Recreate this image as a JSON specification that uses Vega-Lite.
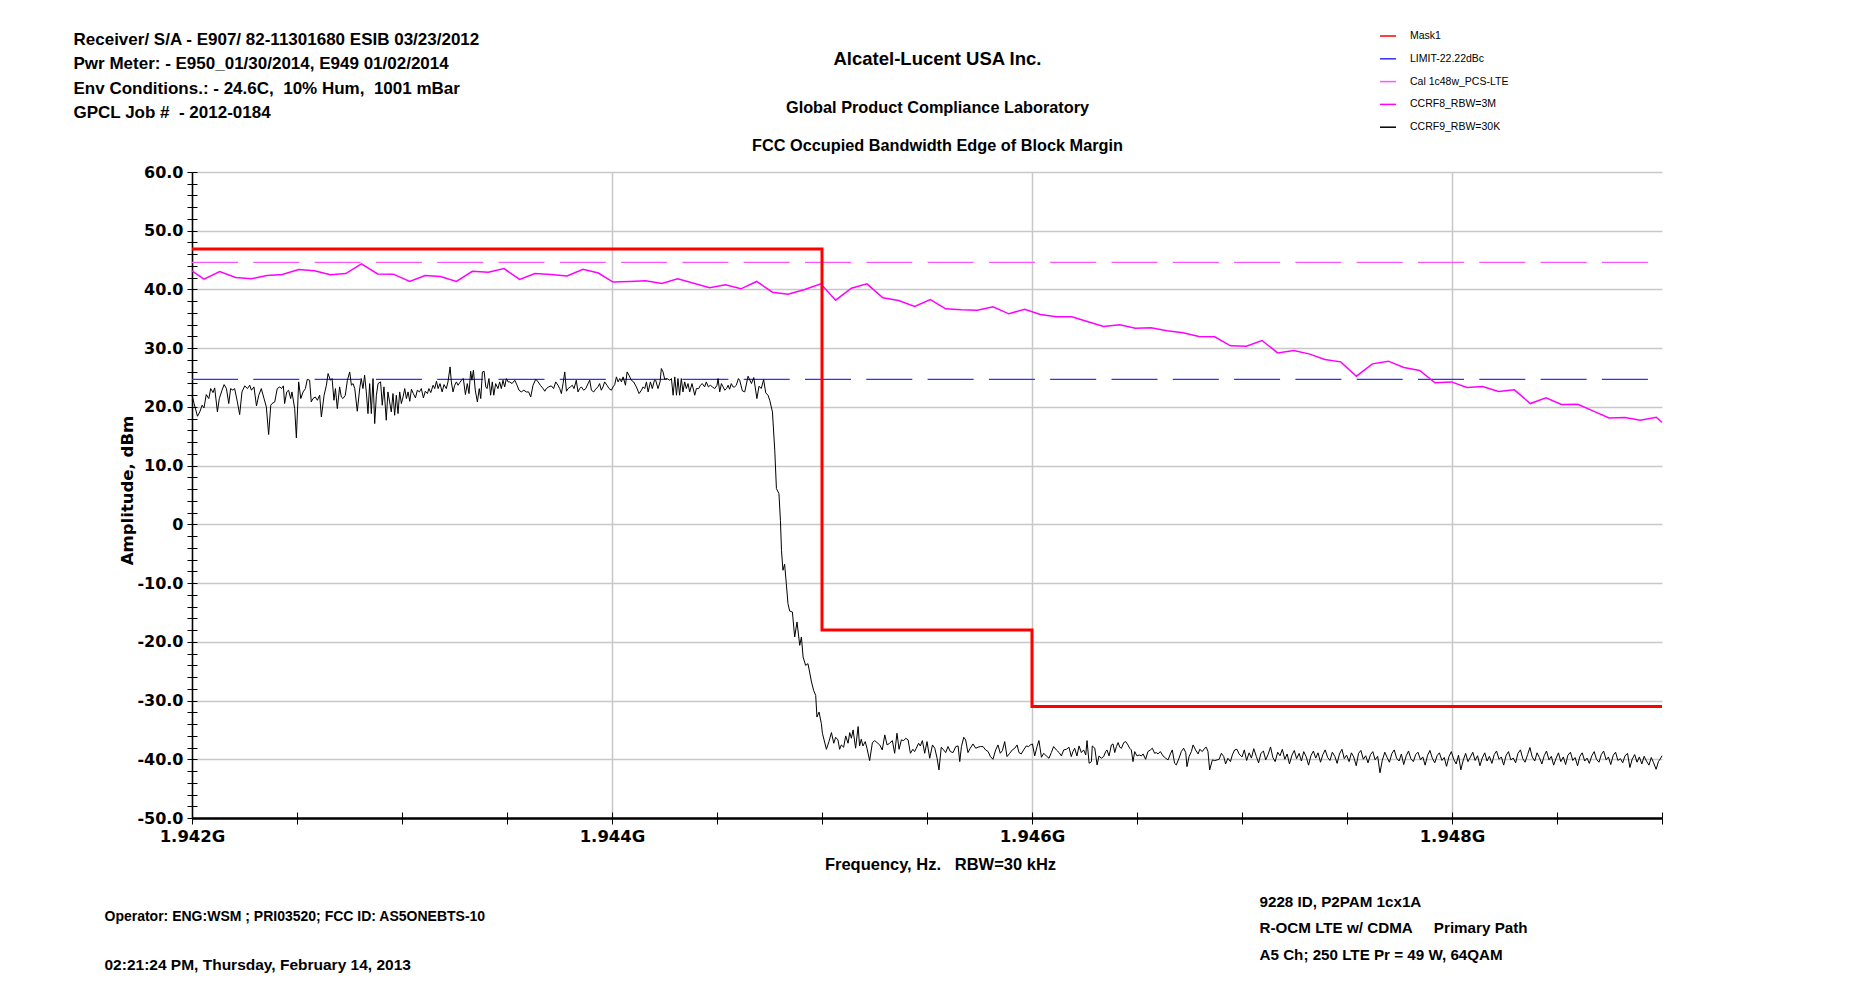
{
  "$schema": "https://vega.github.io/schema/vega-lite/v6.json",
  "width": 1470,
  "height": 646,
  "autosize": {"type": "none"},
  "padding": {"left": 192, "top": 172, "right": 187, "bottom": 169},
  "background": "white",
  "config": {
    "view": {"stroke": null},
    "font": "Liberation Sans",
    "axis": {
      "domainColor": "black", "tickColor": "black", "labelColor": "black", "titleColor": "black",
      "labelFont": "DejaVu Sans", "labelFontWeight": "bold",
      "titleFont": "Liberation Sans", "titleFontWeight": "bold", "titleLimit": 3000,
      "gridColor": "#c8c8c8", "gridWidth": 1.5
    }
  },
  "datasets": {
    "mask": [
      {"f": 1942, "v": 46.9}, {"f": 1945, "v": -18}, {"f": 1946, "v": -31}, {"f": 1949, "v": -31}
    ],
    "limit": [{"f": 1942, "v": 24.68}, {"f": 1949, "v": 24.68}],
    "cal": [{"f": 1942, "v": 44.6}, {"f": 1949, "v": 44.6}],
    "ccrf8": [
      {"f":1942.000,"v":43.17},{"f":1942.057,"v":41.75},{"f":1942.132,"v":43.06},{"f":1942.208,"v":42.04},
      {"f":1942.283,"v":41.81},{"f":1942.357,"v":42.38},{"f":1942.430,"v":42.55},{"f":1942.508,"v":43.4},
      {"f":1942.583,"v":43.2},{"f":1942.659,"v":42.49},{"f":1942.732,"v":42.7},{"f":1942.807,"v":44.36},
      {"f":1942.884,"v":42.65},{"f":1942.959,"v":42.6},{"f":1943.037,"v":41.36},{"f":1943.110,"v":42.38},
      {"f":1943.183,"v":42.2},{"f":1943.259,"v":41.36},{"f":1943.335,"v":43.1},{"f":1943.411,"v":42.95},
      {"f":1943.486,"v":43.55},{"f":1943.560,"v":41.7},{"f":1943.633,"v":42.7},{"f":1943.710,"v":42.55},
      {"f":1943.786,"v":42.3},{"f":1943.862,"v":43.45},{"f":1943.935,"v":42.8},{"f":1944.005,"v":41.25},
      {"f":1944.084,"v":41.36},{"f":1944.160,"v":41.5},{"f":1944.237,"v":41.0},{"f":1944.313,"v":41.8},
      {"f":1944.465,"v":40.28},{"f":1944.540,"v":40.79},{"f":1944.614,"v":40.11},{"f":1944.689,"v":41.36},
      {"f":1944.764,"v":39.54},{"f":1944.838,"v":39.2},{"f":1944.918,"v":40.0},{"f":1944.994,"v":40.96},
      {"f":1945.065,"v":38.18},{"f":1945.140,"v":40.22},{"f":1945.214,"v":40.96},{"f":1945.290,"v":38.57},
      {"f":1945.365,"v":38.12},{"f":1945.441,"v":37.1},{"f":1945.516,"v":38.29},{"f":1945.589,"v":36.7},
      {"f":1945.664,"v":36.53},{"f":1945.740,"v":36.47},{"f":1945.814,"v":37.04},{"f":1945.890,"v":35.85},
      {"f":1945.965,"v":36.64},{"f":1946.040,"v":35.74},{"f":1946.116,"v":35.34},{"f":1946.190,"v":35.34},
      {"f":1946.267,"v":34.49},{"f":1946.341,"v":33.69},{"f":1946.418,"v":33.98},{"f":1946.492,"v":33.41},
      {"f":1946.567,"v":33.46},{"f":1946.643,"v":32.95},{"f":1946.719,"v":32.61},{"f":1946.795,"v":31.99},
      {"f":1946.870,"v":31.93},{"f":1946.946,"v":30.4},{"f":1947.021,"v":30.34},{"f":1947.095,"v":31.31},
      {"f":1947.170,"v":29.2},{"f":1947.246,"v":29.6},{"f":1947.319,"v":29.03},{"f":1947.394,"v":28.07},
      {"f":1947.470,"v":27.67},{"f":1947.545,"v":25.23},{"f":1947.621,"v":27.33},{"f":1947.697,"v":27.79},
      {"f":1947.771,"v":26.71},{"f":1947.846,"v":26.2},{"f":1947.919,"v":24.1},{"f":1947.997,"v":24.26},
      {"f":1948.071,"v":23.3},{"f":1948.146,"v":23.47},{"f":1948.221,"v":22.62},{"f":1948.297,"v":22.9},
      {"f":1948.373,"v":20.57},{"f":1948.448,"v":21.54},{"f":1948.521,"v":20.4},{"f":1948.599,"v":20.46},
      {"f":1948.671,"v":19.32},{"f":1948.748,"v":18.13},{"f":1948.824,"v":18.19},{"f":1948.897,"v":17.73},
      {"f":1948.973,"v":18.24},{"f":1949.000,"v":17.34}
    ],
    "ccrf9": [
      {"f":1942.000,"v":21.99},{"f":1942.010,"v":20.57},{"f":1942.026,"v":18.41},{"f":1942.037,"v":19.15},
      {"f":1942.048,"v":20.28},{"f":1942.057,"v":19.83},{"f":1942.068,"v":22.10},{"f":1942.080,"v":21.42},
      {"f":1942.089,"v":23.12},{"f":1942.100,"v":22.44},{"f":1942.108,"v":23.24},{"f":1942.121,"v":19.15},
      {"f":1942.130,"v":21.42},{"f":1942.143,"v":22.84},{"f":1942.153,"v":23.80},{"f":1942.164,"v":23.12},
      {"f":1942.175,"v":20.57},{"f":1942.184,"v":23.12},{"f":1942.195,"v":22.84},{"f":1942.203,"v":23.12},
      {"f":1942.216,"v":20.85},{"f":1942.227,"v":18.69},{"f":1942.238,"v":22.55},{"f":1942.251,"v":23.58},
      {"f":1942.264,"v":23.12},{"f":1942.275,"v":23.69},{"f":1942.283,"v":22.84},{"f":1942.295,"v":23.41},
      {"f":1942.307,"v":20.17},{"f":1942.318,"v":21.99},{"f":1942.330,"v":23.12},{"f":1942.343,"v":21.42},
      {"f":1942.354,"v":20.00},{"f":1942.365,"v":15.29},{"f":1942.375,"v":20.28},{"f":1942.381,"v":20.57},
      {"f":1942.394,"v":20.85},{"f":1942.406,"v":23.12},{"f":1942.418,"v":23.41},{"f":1942.426,"v":23.12},
      {"f":1942.435,"v":23.58},{"f":1942.441,"v":20.57},{"f":1942.451,"v":22.55},{"f":1942.460,"v":22.84},
      {"f":1942.470,"v":21.42},{"f":1942.476,"v":22.55},{"f":1942.489,"v":19.71},{"f":1942.497,"v":14.72},
      {"f":1942.508,"v":24.26},{"f":1942.518,"v":21.42},{"f":1942.529,"v":22.55},{"f":1942.540,"v":23.12},
      {"f":1942.549,"v":24.71},{"f":1942.560,"v":24.54},{"f":1942.568,"v":20.85},{"f":1942.576,"v":21.42},
      {"f":1942.587,"v":21.70},{"f":1942.597,"v":21.13},{"f":1942.608,"v":21.99},{"f":1942.616,"v":18.29},
      {"f":1942.629,"v":21.99},{"f":1942.640,"v":23.69},{"f":1942.648,"v":25.68},{"f":1942.659,"v":24.54},
      {"f":1942.667,"v":24.83},{"f":1942.676,"v":21.13},{"f":1942.683,"v":23.12},{"f":1942.692,"v":19.71},
      {"f":1942.703,"v":23.41},{"f":1942.711,"v":21.70},{"f":1942.719,"v":21.42},{"f":1942.730,"v":21.99},
      {"f":1942.740,"v":24.54},{"f":1942.751,"v":25.96},{"f":1942.759,"v":23.69},{"f":1942.767,"v":23.97},
      {"f":1942.775,"v":23.12},{"f":1942.787,"v":19.26},{"f":1942.799,"v":23.24},{"f":1942.806,"v":24.83},
      {"f":1942.814,"v":23.12},{"f":1942.822,"v":25.39},{"f":1942.830,"v":22.55},{"f":1942.838,"v":18.86},
      {"f":1942.846,"v":23.97},{"f":1942.854,"v":18.86},{"f":1942.862,"v":24.83},{"f":1942.870,"v":17.16},
      {"f":1942.878,"v":21.99},{"f":1942.886,"v":23.97},{"f":1942.898,"v":24.26},{"f":1942.906,"v":20.28},
      {"f":1942.914,"v":23.41},{"f":1942.925,"v":17.73},{"f":1942.933,"v":22.55},{"f":1942.941,"v":20.85},
      {"f":1942.949,"v":19.15},{"f":1942.957,"v":22.27},{"f":1942.965,"v":18.58},{"f":1942.973,"v":21.99},
      {"f":1942.981,"v":18.86},{"f":1942.989,"v":22.55},{"f":1942.997,"v":20.57},{"f":1943.005,"v":21.70},
      {"f":1943.013,"v":23.12},{"f":1943.021,"v":21.42},{"f":1943.029,"v":22.55},{"f":1943.037,"v":20.96},
      {"f":1943.045,"v":23.01},{"f":1943.054,"v":22.27},{"f":1943.064,"v":21.53},{"f":1943.073,"v":22.84},
      {"f":1943.083,"v":22.55},{"f":1943.092,"v":23.12},{"f":1943.102,"v":21.53},{"f":1943.111,"v":22.67},
      {"f":1943.121,"v":22.27},{"f":1943.128,"v":23.12},{"f":1943.137,"v":22.44},{"f":1943.148,"v":23.69},
      {"f":1943.156,"v":23.12},{"f":1943.164,"v":24.37},{"f":1943.172,"v":23.12},{"f":1943.181,"v":23.97},
      {"f":1943.191,"v":22.55},{"f":1943.200,"v":23.80},{"f":1943.211,"v":23.12},{"f":1943.219,"v":24.26},
      {"f":1943.229,"v":26.81},{"f":1943.235,"v":24.26},{"f":1943.243,"v":22.55},{"f":1943.251,"v":23.69},
      {"f":1943.259,"v":24.26},{"f":1943.267,"v":23.69},{"f":1943.275,"v":24.14},{"f":1943.283,"v":24.54},
      {"f":1943.292,"v":24.83},{"f":1943.302,"v":22.10},{"f":1943.311,"v":23.97},{"f":1943.319,"v":22.27},
      {"f":1943.327,"v":26.07},{"f":1943.333,"v":24.54},{"f":1943.340,"v":26.24},{"f":1943.349,"v":22.84},
      {"f":1943.359,"v":20.85},{"f":1943.368,"v":23.12},{"f":1943.375,"v":21.42},{"f":1943.383,"v":25.96},
      {"f":1943.391,"v":26.07},{"f":1943.399,"v":23.41},{"f":1943.405,"v":23.12},{"f":1943.414,"v":24.83},
      {"f":1943.422,"v":21.99},{"f":1943.430,"v":24.26},{"f":1943.437,"v":21.99},{"f":1943.446,"v":23.97},
      {"f":1943.457,"v":23.12},{"f":1943.465,"v":24.26},{"f":1943.473,"v":23.12},{"f":1943.481,"v":24.54},
      {"f":1943.489,"v":23.41},{"f":1943.497,"v":24.83},{"f":1943.505,"v":24.26},{"f":1943.513,"v":24.26},
      {"f":1943.524,"v":23.97},{"f":1943.537,"v":24.54},{"f":1943.548,"v":23.69},{"f":1943.557,"v":22.84},
      {"f":1943.568,"v":22.55},{"f":1943.580,"v":22.84},{"f":1943.592,"v":22.55},{"f":1943.603,"v":22.55},
      {"f":1943.613,"v":21.70},{"f":1943.624,"v":23.69},{"f":1943.637,"v":24.71},{"f":1943.648,"v":24.26},
      {"f":1943.659,"v":23.69},{"f":1943.672,"v":23.12},{"f":1943.680,"v":22.67},{"f":1943.687,"v":23.12},
      {"f":1943.699,"v":23.41},{"f":1943.711,"v":23.58},{"f":1943.722,"v":23.12},{"f":1943.732,"v":24.26},
      {"f":1943.743,"v":23.69},{"f":1943.751,"v":23.12},{"f":1943.759,"v":22.27},{"f":1943.767,"v":23.97},
      {"f":1943.775,"v":25.96},{"f":1943.783,"v":22.67},{"f":1943.791,"v":23.12},{"f":1943.802,"v":23.41},
      {"f":1943.811,"v":23.69},{"f":1943.819,"v":23.12},{"f":1943.830,"v":24.54},{"f":1943.838,"v":22.55},
      {"f":1943.846,"v":23.12},{"f":1943.854,"v":23.41},{"f":1943.865,"v":22.84},{"f":1943.875,"v":23.12},
      {"f":1943.886,"v":23.97},{"f":1943.894,"v":24.54},{"f":1943.902,"v":22.84},{"f":1943.913,"v":22.55},
      {"f":1943.922,"v":23.01},{"f":1943.933,"v":23.41},{"f":1943.941,"v":23.97},{"f":1943.949,"v":22.84},
      {"f":1943.957,"v":23.41},{"f":1943.965,"v":24.26},{"f":1943.976,"v":23.69},{"f":1943.986,"v":23.12},
      {"f":1943.997,"v":22.84},{"f":1944.005,"v":23.41},{"f":1944.013,"v":23.80},{"f":1944.021,"v":25.11},
      {"f":1944.029,"v":24.26},{"f":1944.037,"v":24.83},{"f":1944.045,"v":24.26},{"f":1944.053,"v":25.11},
      {"f":1944.064,"v":23.69},{"f":1944.072,"v":25.96},{"f":1944.081,"v":25.39},{"f":1944.092,"v":24.54},
      {"f":1944.103,"v":24.26},{"f":1944.116,"v":23.41},{"f":1944.129,"v":22.27},{"f":1944.140,"v":22.84},
      {"f":1944.148,"v":23.41},{"f":1944.156,"v":23.12},{"f":1944.164,"v":24.26},{"f":1944.172,"v":22.55},
      {"f":1944.183,"v":24.26},{"f":1944.192,"v":23.12},{"f":1944.202,"v":24.54},{"f":1944.208,"v":24.54},
      {"f":1944.219,"v":23.12},{"f":1944.229,"v":24.26},{"f":1944.235,"v":26.53},{"f":1944.243,"v":25.96},
      {"f":1944.251,"v":24.71},{"f":1944.262,"v":24.83},{"f":1944.275,"v":24.54},{"f":1944.283,"v":24.83},
      {"f":1944.291,"v":21.99},{"f":1944.299,"v":25.11},{"f":1944.307,"v":21.99},{"f":1944.314,"v":24.83},
      {"f":1944.322,"v":21.99},{"f":1944.330,"v":24.83},{"f":1944.338,"v":22.55},{"f":1944.346,"v":24.26},
      {"f":1944.354,"v":23.12},{"f":1944.362,"v":23.97},{"f":1944.370,"v":22.55},{"f":1944.381,"v":23.97},
      {"f":1944.394,"v":21.99},{"f":1944.402,"v":23.12},{"f":1944.413,"v":23.12},{"f":1944.421,"v":23.69},
      {"f":1944.430,"v":23.97},{"f":1944.441,"v":23.41},{"f":1944.449,"v":24.26},{"f":1944.459,"v":23.41},
      {"f":1944.468,"v":23.69},{"f":1944.478,"v":23.41},{"f":1944.489,"v":23.12},{"f":1944.500,"v":23.69},
      {"f":1944.505,"v":24.83},{"f":1944.513,"v":22.55},{"f":1944.521,"v":23.97},{"f":1944.529,"v":23.41},
      {"f":1944.537,"v":22.84},{"f":1944.545,"v":23.12},{"f":1944.553,"v":23.69},{"f":1944.560,"v":23.01},
      {"f":1944.568,"v":23.97},{"f":1944.576,"v":23.41},{"f":1944.584,"v":23.41},{"f":1944.592,"v":23.69},
      {"f":1944.602,"v":24.83},{"f":1944.608,"v":24.55},{"f":1944.621,"v":22.73},{"f":1944.632,"v":22.56},
      {"f":1944.648,"v":25.23},{"f":1944.664,"v":23.98},{"f":1944.675,"v":25.0},{"f":1944.690,"v":21.42},
      {"f":1944.700,"v":23.52},{"f":1944.711,"v":23.13},{"f":1944.722,"v":24.66},{"f":1944.732,"v":22.39},
      {"f":1944.743,"v":21.99},{"f":1944.751,"v":21.14},{"f":1944.764,"v":19.15},{"f":1944.775,"v":12.62},
      {"f":1944.783,"v":6.09},{"f":1944.795,"v":5.24},{"f":1944.802,"v":0.7},{"f":1944.807,"v":-4.41},
      {"f":1944.814,"v":-7.82},{"f":1944.822,"v":-6.8},{"f":1944.830,"v":-10.09},{"f":1944.838,"v":-13.5},
      {"f":1944.846,"v":-14.75},{"f":1944.859,"v":-14.92},{"f":1944.870,"v":-19.18},{"f":1944.881,"v":-16.62},
      {"f":1944.894,"v":-20.6},{"f":1944.902,"v":-19.18},{"f":1944.910,"v":-22.59},{"f":1944.922,"v":-24.01},
      {"f":1944.933,"v":-23.72},{"f":1944.941,"v":-25.14},{"f":1944.950,"v":-26.85},{"f":1944.960,"v":-28.26},
      {"f":1944.970,"v":-29.12},{"f":1944.976,"v":-32.81},{"f":1944.986,"v":-31.96},{"f":1944.997,"v":-33.94},
      {"f":1945.002,"v":-35.57},{"f":1945.021,"v":-38.30},{"f":1945.033,"v":-36.99},{"f":1945.045,"v":-35.46},
      {"f":1945.056,"v":-37.27},{"f":1945.065,"v":-36.25},{"f":1945.076,"v":-36.70},{"f":1945.084,"v":-38.30},
      {"f":1945.092,"v":-37.56},{"f":1945.103,"v":-37.95},{"f":1945.113,"v":-36.02},{"f":1945.124,"v":-37.27},
      {"f":1945.132,"v":-35.46},{"f":1945.140,"v":-36.42},{"f":1945.148,"v":-35.00},{"f":1945.160,"v":-38.12},
      {"f":1945.172,"v":-34.43},{"f":1945.179,"v":-37.73},{"f":1945.187,"v":-36.59},{"f":1945.195,"v":-37.73},
      {"f":1945.206,"v":-36.99},{"f":1945.214,"v":-38.12},{"f":1945.227,"v":-40.23},{"f":1945.240,"v":-37.16},
      {"f":1945.251,"v":-36.82},{"f":1945.262,"v":-37.16},{"f":1945.275,"v":-37.56},{"f":1945.287,"v":-38.41},
      {"f":1945.299,"v":-35.85},{"f":1945.310,"v":-37.56},{"f":1945.322,"v":-37.27},{"f":1945.335,"v":-36.82},
      {"f":1945.346,"v":-38.98},{"f":1945.357,"v":-35.57},{"f":1945.367,"v":-38.30},{"f":1945.378,"v":-36.70},
      {"f":1945.389,"v":-36.82},{"f":1945.399,"v":-36.42},{"f":1945.410,"v":-36.70},{"f":1945.421,"v":-38.98},
      {"f":1945.433,"v":-38.30},{"f":1945.441,"v":-38.69},{"f":1945.449,"v":-38.12},{"f":1945.460,"v":-37.27},
      {"f":1945.468,"v":-37.73},{"f":1945.478,"v":-36.82},{"f":1945.489,"v":-38.98},{"f":1945.500,"v":-36.99},
      {"f":1945.513,"v":-39.83},{"f":1945.526,"v":-37.56},{"f":1945.537,"v":-38.12},{"f":1945.548,"v":-39.83},
      {"f":1945.557,"v":-41.82},{"f":1945.568,"v":-37.95},{"f":1945.579,"v":-38.41},{"f":1945.589,"v":-38.86},
      {"f":1945.600,"v":-37.84},{"f":1945.611,"v":-38.69},{"f":1945.624,"v":-38.86},{"f":1945.637,"v":-37.84},
      {"f":1945.648,"v":-37.73},{"f":1945.656,"v":-40.40},{"f":1945.664,"v":-37.84},{"f":1945.675,"v":-36.25},
      {"f":1945.684,"v":-36.70},{"f":1945.695,"v":-38.86},{"f":1945.706,"v":-38.12},{"f":1945.719,"v":-37.39},
      {"f":1945.732,"v":-38.12},{"f":1945.743,"v":-37.95},{"f":1945.754,"v":-37.84},{"f":1945.767,"v":-37.84},
      {"f":1945.779,"v":-38.41},{"f":1945.791,"v":-38.69},{"f":1945.802,"v":-39.54},{"f":1945.814,"v":-40.00},
      {"f":1945.827,"v":-38.41},{"f":1945.838,"v":-37.56},{"f":1945.849,"v":-38.98},{"f":1945.859,"v":-38.52},
      {"f":1945.870,"v":-36.99},{"f":1945.881,"v":-39.54},{"f":1945.894,"v":-38.98},{"f":1945.906,"v":-38.41},
      {"f":1945.918,"v":-38.12},{"f":1945.929,"v":-37.56},{"f":1945.938,"v":-38.86},{"f":1945.949,"v":-39.09},
      {"f":1945.960,"v":-38.41},{"f":1945.973,"v":-37.73},{"f":1945.984,"v":-37.84},{"f":1945.992,"v":-37.56},
      {"f":1946.002,"v":-37.39},{"f":1946.013,"v":-39.43},{"f":1946.024,"v":-37.84},{"f":1946.033,"v":-36.82},
      {"f":1946.045,"v":-39.66},{"f":1946.056,"v":-38.98},{"f":1946.068,"v":-39.43},{"f":1946.081,"v":-39.83},
      {"f":1946.092,"v":-38.86},{"f":1946.103,"v":-37.84},{"f":1946.116,"v":-38.41},{"f":1946.129,"v":-38.86},
      {"f":1946.140,"v":-39.43},{"f":1946.151,"v":-38.41},{"f":1946.164,"v":-38.30},{"f":1946.176,"v":-37.95},
      {"f":1946.187,"v":-39.54},{"f":1946.195,"v":-38.69},{"f":1946.203,"v":-38.12},{"f":1946.214,"v":-39.43},
      {"f":1946.224,"v":-37.73},{"f":1946.235,"v":-38.86},{"f":1946.246,"v":-38.41},{"f":1946.256,"v":-39.26},
      {"f":1946.262,"v":-36.82},{"f":1946.272,"v":-40.68},{"f":1946.283,"v":-40.40},{"f":1946.287,"v":-37.73},
      {"f":1946.299,"v":-38.12},{"f":1946.310,"v":-40.96},{"f":1946.319,"v":-39.43},{"f":1946.330,"v":-39.83},
      {"f":1946.341,"v":-39.54},{"f":1946.351,"v":-38.69},{"f":1946.357,"v":-38.41},{"f":1946.367,"v":-39.43},
      {"f":1946.378,"v":-37.56},{"f":1946.386,"v":-37.39},{"f":1946.394,"v":-38.86},{"f":1946.402,"v":-37.84},
      {"f":1946.410,"v":-37.16},{"f":1946.418,"v":-37.95},{"f":1946.426,"v":-38.12},{"f":1946.437,"v":-37.16},
      {"f":1946.446,"v":-36.99},{"f":1946.457,"v":-37.56},{"f":1946.465,"v":-38.12},{"f":1946.473,"v":-38.41},
      {"f":1946.481,"v":-40.40},{"f":1946.489,"v":-38.69},{"f":1946.500,"v":-39.43},{"f":1946.510,"v":-39.26},
      {"f":1946.521,"v":-39.43},{"f":1946.529,"v":-39.09},{"f":1946.541,"v":-40.00},{"f":1946.552,"v":-38.69},
      {"f":1946.564,"v":-38.41},{"f":1946.573,"v":-38.12},{"f":1946.584,"v":-38.98},{"f":1946.592,"v":-38.86},
      {"f":1946.600,"v":-39.09},{"f":1946.611,"v":-38.69},{"f":1946.624,"v":-39.43},{"f":1946.637,"v":-39.83},
      {"f":1946.648,"v":-40.11},{"f":1946.659,"v":-39.09},{"f":1946.668,"v":-38.41},{"f":1946.679,"v":-40.68},
      {"f":1946.687,"v":-40.96},{"f":1946.700,"v":-39.83},{"f":1946.711,"v":-38.69},{"f":1946.722,"v":-38.12},
      {"f":1946.732,"v":-38.86},{"f":1946.738,"v":-41.25},{"f":1946.748,"v":-39.54},{"f":1946.759,"v":-38.69},
      {"f":1946.767,"v":-37.56},{"f":1946.779,"v":-38.41},{"f":1946.791,"v":-39.09},{"f":1946.799,"v":-38.30},
      {"f":1946.811,"v":-38.69},{"f":1946.822,"v":-38.12},{"f":1946.830,"v":-37.95},{"f":1946.838,"v":-38.69},
      {"f":1946.846,"v":-41.82},{"f":1946.859,"v":-40.11},{"f":1946.870,"v":-40.23},{"f":1946.881,"v":-40.11},
      {"f":1946.891,"v":-40.00},{"f":1946.902,"v":-38.98},{"f":1946.913,"v":-39.54},{"f":1946.922,"v":-40.79},
      {"f":1946.933,"v":-39.83},{"f":1946.945,"v":-40.40},{"f":1946.954,"v":-39.26},{"f":1946.965,"v":-38.41},
      {"f":1946.976,"v":-38.30},{"f":1946.986,"v":-39.09},
      {"f":1947.000,"v":-39.6},{"f":1947.011,"v":-38.4},{"f":1947.022,"v":-40.2},{"f":1947.034,"v":-38.9},
      {"f":1947.045,"v":-39.8},{"f":1947.056,"v":-38.2},{"f":1947.068,"v":-39.5},{"f":1947.079,"v":-40.6},
      {"f":1947.090,"v":-39.0},{"f":1947.102,"v":-38.6},{"f":1947.113,"v":-40.1},{"f":1947.124,"v":-39.2},
      {"f":1947.136,"v":-37.9},{"f":1947.147,"v":-39.7},{"f":1947.158,"v":-40.4},{"f":1947.170,"v":-38.8},
      {"f":1947.181,"v":-39.4},{"f":1947.192,"v":-38.3},{"f":1947.204,"v":-40.0},{"f":1947.215,"v":-39.1},
      {"f":1947.226,"v":-40.8},{"f":1947.238,"v":-39.3},{"f":1947.249,"v":-38.5},{"f":1947.260,"v":-39.9},
      {"f":1947.272,"v":-39.0},{"f":1947.283,"v":-40.3},{"f":1947.294,"v":-38.7},{"f":1947.306,"v":-39.6},
      {"f":1947.317,"v":-41.0},{"f":1947.328,"v":-39.4},{"f":1947.340,"v":-38.6},{"f":1947.351,"v":-39.8},
      {"f":1947.362,"v":-38.9},{"f":1947.374,"v":-40.5},{"f":1947.385,"v":-39.2},{"f":1947.396,"v":-38.4},
      {"f":1947.408,"v":-39.7},{"f":1947.419,"v":-40.2},{"f":1947.430,"v":-38.8},{"f":1947.442,"v":-39.5},
      {"f":1947.453,"v":-40.7},{"f":1947.464,"v":-39.1},{"f":1947.476,"v":-38.3},{"f":1947.487,"v":-39.9},
      {"f":1947.498,"v":-39.3},{"f":1947.510,"v":-40.4},{"f":1947.521,"v":-38.9},{"f":1947.532,"v":-39.6},
      {"f":1947.544,"v":-41.1},{"f":1947.555,"v":-39.0},{"f":1947.566,"v":-38.5},{"f":1947.578,"v":-40.0},
      {"f":1947.589,"v":-39.4},{"f":1947.600,"v":-40.6},{"f":1947.612,"v":-39.2},{"f":1947.623,"v":-38.7},
      {"f":1947.634,"v":-40.1},{"f":1947.646,"v":-39.5},{"f":1947.657,"v":-42.3},{"f":1947.668,"v":-40.2},
      {"f":1947.680,"v":-38.8},{"f":1947.691,"v":-39.7},{"f":1947.702,"v":-40.5},{"f":1947.714,"v":-39.0},
      {"f":1947.725,"v":-38.4},{"f":1947.736,"v":-39.8},{"f":1947.748,"v":-40.3},{"f":1947.759,"v":-39.1},
      {"f":1947.770,"v":-40.9},{"f":1947.782,"v":-39.4},{"f":1947.793,"v":-38.6},{"f":1947.804,"v":-39.9},
      {"f":1947.816,"v":-40.4},{"f":1947.827,"v":-39.2},{"f":1947.838,"v":-38.8},{"f":1947.850,"v":-40.1},
      {"f":1947.861,"v":-39.6},{"f":1947.872,"v":-41.0},{"f":1947.884,"v":-39.3},{"f":1947.895,"v":-38.5},
      {"f":1947.906,"v":-39.8},{"f":1947.918,"v":-40.6},{"f":1947.929,"v":-39.4},{"f":1947.940,"v":-38.9},
      {"f":1947.952,"v":-40.2},{"f":1947.963,"v":-39.7},{"f":1947.974,"v":-41.2},{"f":1947.986,"v":-39.5},
      {"f":1947.997,"v":-38.7},{"f":1948.008,"v":-40.0},{"f":1948.020,"v":-40.8},{"f":1948.031,"v":-39.3},
      {"f":1948.042,"v":-41.8},{"f":1948.054,"v":-40.1},{"f":1948.065,"v":-39.0},{"f":1948.076,"v":-40.4},
      {"f":1948.088,"v":-39.6},{"f":1948.099,"v":-38.8},{"f":1948.110,"v":-40.2},{"f":1948.122,"v":-39.4},
      {"f":1948.133,"v":-41.1},{"f":1948.144,"v":-39.8},{"f":1948.156,"v":-38.9},{"f":1948.167,"v":-40.3},
      {"f":1948.178,"v":-39.5},{"f":1948.190,"v":-40.7},{"f":1948.201,"v":-39.2},{"f":1948.212,"v":-38.6},
      {"f":1948.224,"v":-40.0},{"f":1948.235,"v":-39.6},{"f":1948.246,"v":-41.0},{"f":1948.258,"v":-39.3},
      {"f":1948.269,"v":-38.7},{"f":1948.280,"v":-40.1},{"f":1948.292,"v":-39.8},{"f":1948.303,"v":-40.6},
      {"f":1948.314,"v":-39.0},{"f":1948.326,"v":-38.4},{"f":1948.337,"v":-39.9},{"f":1948.348,"v":-40.5},
      {"f":1948.360,"v":-39.2},{"f":1948.371,"v":-38.0},{"f":1948.382,"v":-39.6},{"f":1948.394,"v":-40.3},
      {"f":1948.405,"v":-38.9},{"f":1948.416,"v":-39.7},{"f":1948.428,"v":-40.8},{"f":1948.439,"v":-39.4},
      {"f":1948.450,"v":-38.6},{"f":1948.462,"v":-40.1},{"f":1948.473,"v":-39.5},{"f":1948.484,"v":-41.0},
      {"f":1948.496,"v":-39.8},{"f":1948.507,"v":-38.9},{"f":1948.518,"v":-40.4},{"f":1948.530,"v":-39.6},
      {"f":1948.541,"v":-40.9},{"f":1948.552,"v":-39.3},{"f":1948.564,"v":-38.8},{"f":1948.575,"v":-40.2},
      {"f":1948.586,"v":-39.7},{"f":1948.598,"v":-41.1},{"f":1948.609,"v":-39.5},{"f":1948.620,"v":-38.9},
      {"f":1948.632,"v":-40.3},{"f":1948.643,"v":-39.8},{"f":1948.654,"v":-40.7},{"f":1948.666,"v":-39.4},
      {"f":1948.677,"v":-38.7},{"f":1948.688,"v":-40.0},{"f":1948.700,"v":-40.5},{"f":1948.711,"v":-39.2},
      {"f":1948.722,"v":-38.6},{"f":1948.734,"v":-40.1},{"f":1948.745,"v":-39.6},{"f":1948.756,"v":-40.9},
      {"f":1948.768,"v":-39.3},{"f":1948.779,"v":-38.8},{"f":1948.790,"v":-40.2},{"f":1948.802,"v":-39.9},
      {"f":1948.813,"v":-40.6},{"f":1948.824,"v":-39.4},{"f":1948.836,"v":-39.0},{"f":1948.847,"v":-41.4},
      {"f":1948.858,"v":-40.0},{"f":1948.870,"v":-39.2},{"f":1948.881,"v":-40.5},{"f":1948.892,"v":-39.6},
      {"f":1948.904,"v":-40.8},{"f":1948.915,"v":-39.5},{"f":1948.926,"v":-40.3},{"f":1948.938,"v":-41.0},
      {"f":1948.949,"v":-39.7},{"f":1948.960,"v":-40.6},{"f":1948.972,"v":-41.7},{"f":1948.983,"v":-40.4},
      {"f":1948.994,"v":-39.8},{"f":1949.000,"v":-39.4}
    ]
  },
  "resolve": {"axis": {"x": "independent", "y": "independent"}},
  "layer": [
    {
      "data": {"name": "cal"},
      "mark": {"type": "line", "strokeDash": [46, 15.3], "strokeWidth": 1.2},
      "encoding": {
        "x": {"field": "f", "type": "quantitative", "scale": {"domain": [1942, 1949], "nice": false, "zero": false},
          "axis": {"orient": "top", "labels": false, "ticks": false, "domain": false, "grid": false,
            "title": ["Global Product Compliance Laboratory", "FCC Occupied Bandwidth Edge of Block Margin"],
            "titleFontSize": 16.3, "titleAlign": "center", "titleBaseline": "alphabetic", "titleAngle": 0,
            "titleX": 745, "titleY": -60, "titleLineHeight": 38}},
        "y": {"field": "v", "type": "quantitative", "scale": {"domain": [-50, 60], "nice": false, "zero": false},
          "axis": {"orient": "left", "labels": false, "ticks": false, "domain": false, "grid": false,
            "title": "02:21:24 PM, Thursday, February 14, 2013",
            "titleFontSize": 15.5, "titleAngle": 0, "titleAlign": "left", "titleBaseline": "alphabetic",
            "titleX": -88, "titleY": 797}},
        "color": {"datum": "Cal 1c48w_PCS-LTE", "type": "nominal",
          "scale": {"domain": ["Mask1", "LIMIT-22.22dBc", "Cal 1c48w_PCS-LTE", "CCRF8_RBW=3M", "CCRF9_RBW=30K"],
                    "range": ["#ff0000", "#3030ff", "#ff55ff", "#ff00ff", "#000000"]},
          "legend": {"title": null, "orient": "none", "legendX": 1187, "legendY": -145, "padding": 0,
            "symbolType": "stroke", "symbolSize": 256, "symbolStrokeWidth": 1.5, "labelFont": "Liberation Sans",
            "labelFontSize": 10.5, "labelColor": "black", "rowPadding": 7.8, "labelOffset": 13, "labelLimit": 300}}
      }
    },
    {
      "data": {"name": "limit"},
      "mark": {"type": "line", "strokeDash": [46, 15.3], "strokeWidth": 1.2},
      "encoding": {
        "x": {"field": "f", "type": "quantitative", "scale": {"domain": [1942, 1949], "nice": false, "zero": false},
          "axis": {"orient": "top", "labels": false, "ticks": false, "domain": false, "grid": false,
            "title": "Alcatel-Lucent USA Inc.", "titleFontSize": 18.5, "titleAlign": "center", "titleBaseline": "alphabetic",
            "titleAngle": 0, "titleX": 745, "titleY": -108}},
        "y": {"field": "v", "type": "quantitative", "scale": {"domain": [-50, 60], "nice": false, "zero": false},
          "axis": {"orient": "right", "labels": false, "ticks": false, "domain": false, "grid": false,
            "title": ["9228 ID, P2PAM 1cx1A", "R-OCM LTE w/ CDMA\u00a0\u00a0\u00a0\u00a0\u00a0Primary Path", "A5 Ch; 250 LTE Pr = 49 W, 64QAM"],
            "titleFontSize": 15.2, "titleAngle": 0, "titleAlign": "left", "titleBaseline": "alphabetic",
            "titleX": -403, "titleY": 734, "titleLineHeight": 26.5}},
        "color": {"datum": "LIMIT-22.22dBc", "type": "nominal"}
      }
    },
    {
      "data": {"name": "ccrf8"},
      "mark": {"type": "line", "strokeWidth": 1.5},
      "encoding": {
        "x": {"field": "f", "type": "quantitative", "scale": {"domain": [1942, 1949], "nice": false, "zero": false},
          "axis": {"orient": "bottom", "labels": false, "domain": false, "grid": false, "title": null,
            "values": [1942, 1942.5, 1943, 1943.5, 1944, 1944.5, 1945, 1945.5, 1946, 1946.5, 1947, 1947.5, 1948, 1948.5, 1949],
            "tickSize": -6, "tickWidth": 1}},
        "y": {"field": "v", "type": "quantitative", "scale": {"domain": [-50, 60], "nice": false, "zero": false},
          "axis": {"orient": "left", "labels": false, "domain": false, "grid": false, "title": null,
            "values": [-50,-48,-46,-44,-42,-40,-38,-36,-34,-32,-30,-28,-26,-24,-22,-20,-18,-16,-14,-12,-10,-8,-6,-4,-2,0,2,4,6,8,10,12,14,16,18,20,22,24,26,28,30,32,34,36,38,40,42,44,46,48,50,52,54,56,58,60],
            "tickSize": -5, "tickWidth": 1}},
        "color": {"datum": "CCRF8_RBW=3M", "type": "nominal"}
      }
    },
    {
      "data": {"name": "ccrf9"},
      "mark": {"type": "line", "strokeWidth": 1},
      "encoding": {
        "x": {"field": "f", "type": "quantitative", "scale": {"domain": [1942, 1949], "nice": false, "zero": false},
          "axis": {"orient": "bottom",
            "values": [1942, 1942.5, 1943, 1943.5, 1944, 1944.5, 1945, 1945.5, 1946, 1946.5, 1947, 1947.5, 1948, 1948.5, 1949],
            "labelExpr": "datum.value % 2 === 0 ? format(datum.value / 1000, '.3f') + 'G' : ''",
            "labelFontSize": 16.5, "labelPadding": 4, "labelFlush": false, "labelOverlap": false,
            "tickSize": 6, "tickWidth": 1, "domainWidth": 2.5,
            "grid": true, "gridOpacity": {"condition": {"test": "datum.value % 2 === 0", "value": 1}, "value": 0},
            "title": "Frequency, Hz.\u00a0\u00a0\u00a0RBW=30 kHz", "titleFontSize": 16.5, "titleAlign": "center",
            "titleBaseline": "middle", "titleAngle": 0, "titleX": 748, "titleY": 46}},
        "y": {"field": "v", "type": "quantitative", "scale": {"domain": [-50, 60], "nice": false, "zero": false},
          "axis": {"orient": "left",
            "values": [-50,-48,-46,-44,-42,-40,-38,-36,-34,-32,-30,-28,-26,-24,-22,-20,-18,-16,-14,-12,-10,-8,-6,-4,-2,0,2,4,6,8,10,12,14,16,18,20,22,24,26,28,30,32,34,36,38,40,42,44,46,48,50,52,54,56,58,60],
            "labelExpr": "datum.value % 10 === 0 ? (datum.value === 0 ? '0' : (datum.value < 0 ? '-' : '') + format(abs(datum.value), '.1f')) : ''",
            "labelFontSize": 16, "labelPadding": 4, "labelOverlap": false, "labelBaseline": "middle",
            "tickSize": 5, "tickWidth": 1, "domainWidth": 1.5,
            "grid": true, "gridOpacity": {"condition": {"test": "datum.value % 10 === 0", "value": 1}, "value": 0},
            "title": "Amplitude, dBm", "titleFont": "DejaVu Sans", "titleFontSize": 16.5, "titleAngle": -90, "titleAlign": "center",
            "titleBaseline": "middle", "titleX": -65, "titleY": 318}},
        "color": {"datum": "CCRF9_RBW=30K", "type": "nominal"}
      }
    },
    {
      "data": {"name": "mask"},
      "mark": {"type": "line", "interpolate": "step-after", "strokeWidth": 3},
      "encoding": {
        "x": {"field": "f", "type": "quantitative", "scale": {"domain": [1942, 1949], "nice": false, "zero": false},
          "axis": {"orient": "top", "labels": false, "ticks": false, "domain": false, "grid": false,
            "title": ["Receiver/ S/A - E907/ 82-11301680 ESIB 03/23/2012", "Pwr Meter: - E950_01/30/2014, E949 01/02/2014", "Env Conditions.: - 24.6C,\u00a0\u00a010% Hum,\u00a0\u00a01001 mBar", "GPCL Job #\u00a0\u00a0- 2012-0184"],
            "titleFontSize": 17, "titleAlign": "left", "titleBaseline": "alphabetic", "titleAngle": 0,
            "titleX": -119, "titleY": -128, "titleLineHeight": 24.5}},
        "y": {"field": "v", "type": "quantitative", "scale": {"domain": [-50, 60], "nice": false, "zero": false},
          "axis": {"orient": "left", "labels": false, "ticks": false, "domain": false, "grid": false,
            "title": "Operator: ENG:WSM ; PRI03520; FCC ID: AS5ONEBTS-10",
            "titleFontSize": 14, "titleAngle": 0, "titleAlign": "left", "titleBaseline": "alphabetic",
            "titleX": -88, "titleY": 748}},
        "color": {"datum": "Mask1", "type": "nominal"}
      }
    }
  ]
}
